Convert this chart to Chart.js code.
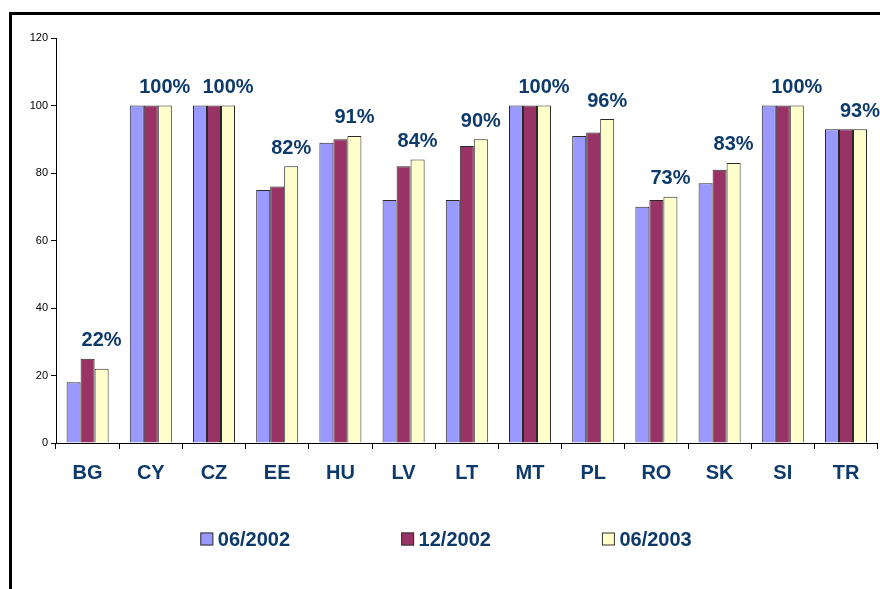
<!DOCTYPE html>
<html>
<head>
<meta charset="utf-8">
<script src="https://cdn.jsdelivr.net/npm/chart.js@4/dist/chart.umd.min.js"></script>
<style>
  html, body { margin: 0; padding: 0; background: #fff; overflow: hidden; }
  #frame { position: absolute; left: 9px; top: 12px; border-left: 3px solid #000; border-top: 3px solid #000; width: 868px; height: 574px; }
  canvas { display: block; }
</style>
</head>
<body>
<div id="frame"><canvas id="c" width="868" height="574"></canvas></div>
<script>
const categories = ["BG", "CY", "CZ", "EE", "HU", "LV", "LT", "MT", "PL", "RO", "SK", "SI", "TR"];
const seriesNames = ["06/2002", "12/2002", "06/2003"];
const values0602 = [18, 100, 100, 75, 89, 72, 72, 100, 91, 70, 77, 100, 93];
const values1202 = [25, 100, 100, 76, 90, 82, 88, 100, 92, 72, 81, 100, 93];
const values0603 = [22, 100, 100, 82, 91, 84, 90, 100, 96, 73, 83, 100, 93];
const yTicks = [0, 20, 40, 60, 80, 100, 120];

const navy = "#0d3a6b";
const fontFamily = "'Liberation Sans', Arial, sans-serif";

const pctLabels = {
  id: "pctLabels",
  afterDatasetsDraw(chart) {
    const ctx = chart.ctx;
    const meta = chart.getDatasetMeta(2);
    const y = chart.scales.y;
    ctx.save();
    ctx.font = "bold 20px " + fontFamily;
    ctx.fillStyle = navy;
    ctx.textAlign = "center";
    ctx.textBaseline = "middle";
    categories.forEach((c, i) => {
      const top = Math.max(values0602[i], values1202[i], values0603[i]);
      const bar = meta.data[i];
      ctx.fillText(values0603[i] + "%", bar.x, y.getPixelForValue(top) - 18);
    });
    ctx.restore();
  }
};

const bottomLegend = {
  id: "bottomLegend",
  afterDraw(chart) {
    const ctx = chart.ctx;
    ctx.save();
    ctx.font = "bold 20px " + fontFamily;
    ctx.textBaseline = "middle";
    ctx.textAlign = "left";
    const box = 13, gap = 4.5, spacing = 200.8;
    const ds = chart.data.datasets;
    const lastW = box + gap + ctx.measureText(ds[ds.length - 1].label).width;
    const total = spacing * (ds.length - 1) + lastW;
    const start = chart.width / 2 - total / 2;
    const cy = 524;
    ds.forEach((d, i) => {
      const x = start + i * spacing;
      ctx.fillStyle = d.backgroundColor;
      ctx.fillRect(x, cy - box / 2, box, box);
      ctx.strokeStyle = "#333";
      ctx.lineWidth = 1;
      ctx.strokeRect(x + 0.5, cy - box / 2 + 0.5, box - 1, box - 1);
      ctx.fillStyle = navy;
      ctx.fillText(d.label, x + box + gap, cy + 1);
    });
    ctx.restore();
  }
};

new Chart(document.getElementById("c"), {
  type: "bar",
  data: {
    labels: categories,
    datasets: [
      { label: seriesNames[0], data: values0602, backgroundColor: "#9999ff", borderColor: "#2a2a2a", borderWidth: 1 },
      { label: seriesNames[1], data: values1202, backgroundColor: "#993366", borderColor: "#2a2a2a", borderWidth: 1 },
      { label: seriesNames[2], data: values0603, backgroundColor: "#ffffcc", borderColor: "#2a2a2a", borderWidth: 1 }
    ]
  },
  options: {
    responsive: false,
    animation: false,
    devicePixelRatio: 1,
    layout: { padding: { top: 23, right: 2.4, left: 0, bottom: 0 } },
    datasets: { bar: { categoryPercentage: 0.665, barPercentage: 1.0 } },
    plugins: { legend: { display: false }, tooltip: { enabled: false } },
    scales: {
      x: {
        afterFit(s) { s.height = 146; },
        border: { display: true, color: "#000", width: 1 },
        grid: { display: true, drawOnChartArea: false, drawTicks: true, tickLength: 6, color: "#000", offset: true },
        ticks: { color: navy, font: { family: fontFamily, size: 20, weight: "bold" }, padding: 12, maxRotation: 0 }
      },
      y: {
        min: 0, max: 120,
        afterFit(s) { s.width = 44; },
        afterBuildTicks(s) { s.ticks = yTicks.map(v => ({ value: v })); },
        border: { display: true, color: "#000", width: 1 },
        grid: { display: true, drawOnChartArea: false, drawTicks: true, tickLength: 5, color: "#000" },
        ticks: { color: "#000", font: { family: fontFamily, size: 11 }, padding: 3 }
      }
    }
  },
  plugins: [pctLabels, bottomLegend]
});
</script>
</body>
</html>
